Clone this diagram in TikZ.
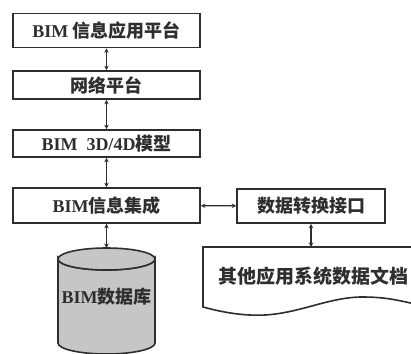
\documentclass[tikz,border=0pt]{standalone}
\usepackage{fontspec}
\setmainfont{Liberation Serif}
\newfontfamily\cjk{Noto Sans CJK SC}
\usetikzlibrary{arrows.meta}
\definecolor{ink}{HTML}{2E2E2E}
\definecolor{dbgray}{HTML}{C6C6C6}
\newcommand{\zh}[1]{{\cjk #1}}
\tikzset{
  boxnode/.style={draw=ink, line width=1.6pt, minimum width=187pt, inner sep=0pt,
    text=ink, font=\fontsize{18}{20}\selectfont\bfseries},
  txt/.style={text=ink, inner sep=0pt, font=\fontsize{18}{20}\selectfont\bfseries},
  link/.style={draw=ink, line width=1.3pt, {Stealth[length=4.5pt,width=4.5pt]}-{Stealth[length=4.5pt,width=4.5pt]}}
}
\begin{document}
\begin{tikzpicture}[x=1pt,y=-1pt]
\useasboundingbox (0,0) rectangle (411,353);
\clip (0,0) rectangle (411,353);
\fill[white] (0,0) rectangle (411,353);

\node[boxnode, minimum height=34pt] (b1) at (106.5,30.5) {BIM \zh{信息应用平台}};
\node[boxnode, minimum height=28pt] (b2) at (106.5,85) {\zh{网络平台}};
\node[boxnode, minimum height=27pt] (b3) at (106.5,143.5) {BIM\ \ 3D/4D\zh{模型}};
\node[boxnode, minimum height=35pt] (b4) at (106.5,205.5) {BIM\zh{信息集成}};
\node[boxnode, minimum width=148pt, minimum height=34pt] (r) at (311,206) {\zh{数据转换接口}};

% cylinder
\path[fill=dbgray, draw=ink, line width=1.6pt]
  (58,259) -- (58,343) arc[start angle=180, end angle=0, x radius=48.5, y radius=11]
  -- (155,259) arc[start angle=0, end angle=180, x radius=48.5, y radius=11] -- cycle;
\draw[ink, line width=1.6pt, fill=dbgray] (106.5,259) ellipse[x radius=48.5, y radius=11];
\coordinate (cyltop) at (106.5,248);
\node[txt] (db) at (106.5,297) {BIM\zh{数据库}};

% document
\draw[ink, line width=1.6pt]
  (430,247) -- (203,247) -- (203,307)
  .. controls (225,313) and (245,316) .. (265,315)
  .. controls (300,313) and (330,297) .. (362,297)
  .. controls (385,297) and (400,300) .. (430,308);
\coordinate (doctop) at (311,247);
\node[txt, font=\fontsize{19}{20}\selectfont\bfseries] (doc) at (313,276) {\zh{其他应用系统数据文档}};

\draw[link] (b1) -- (b2);
\draw[link] (b2) -- (b3);
\draw[link] (b3) -- (b4);
\draw[link] (b4) -- (cyltop);
\draw[link] (b4) -- (r);
\draw[link] (r) -- (doctop);
\end{tikzpicture}
\end{document}
